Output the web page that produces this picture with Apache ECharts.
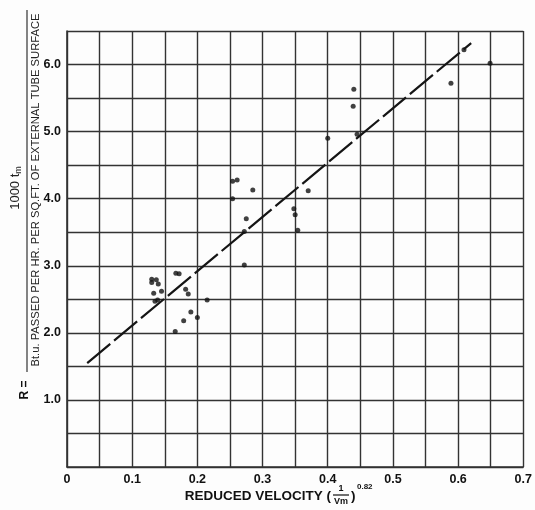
<!DOCTYPE html>
<html>
<head>
<meta charset="utf-8">
<script src="https://cdn.jsdelivr.net/npm/echarts@6/dist/echarts.min.js"></script>
<style>
  html, body { margin: 0; padding: 0; background: #fdfdfd; }
  #chart { width: 535px; height: 510px; }
</style>
</head>
<body>
<div id="chart"></div>
<script>
// test points: [reduced velocity, R]
var pointsX = [0.609, 0.649, 0.589, 0.440, 0.439, 0.400, 0.445, 0.370, 0.348, 0.350, 0.354,
  0.254, 0.261, 0.285, 0.254, 0.275, 0.272, 0.272,
  0.130, 0.130, 0.137, 0.140, 0.133, 0.145, 0.135, 0.139, 0.167, 0.172,
  0.182, 0.186, 0.215, 0.190, 0.179, 0.200, 0.166];
var pointsY = [6.22, 6.02, 5.72, 5.63, 5.38, 4.90, 4.96, 4.12, 3.85, 3.76, 3.53,
  4.26, 4.28, 4.13, 4.00, 3.70, 3.51, 3.01,
  2.80, 2.75, 2.79, 2.73, 2.59, 2.62, 2.47, 2.49, 2.89, 2.88,
  2.65, 2.58, 2.49, 2.31, 2.18, 2.23, 2.02];

// fitted straight line (ends)
var lineX = [0.031, 0.620];
var lineY = [1.55, 6.32];

var xTicks = ['0', '0.1', '0.2', '0.3', '0.4', '0.5', '0.6', '0.7'];
var yTicks = ['', '1.0', '2.0', '3.0', '4.0', '5.0', '6.0'];

var scatterData = [];
for (var i = 0; i < pointsX.length; i++) {
  scatterData.push([pointsX[i], pointsY[i]]);
}
var lineData = [];
for (var j = 0; j < lineX.length; j++) {
  lineData.push([lineX[j], lineY[j]]);
}

var gridColor = '#333';
var font = 'Liberation Sans';

var chart = echarts.init(document.getElementById('chart'));
chart.setOption({
  backgroundColor: '#fdfdfd',
  animation: false,
  grid: { left: 67, right: 2, top: 31, bottom: 43 },
  xAxis: {
    type: 'value', min: 0, max: 0.7, interval: 0.05,
    axisLine: { show: true, lineStyle: { color: gridColor, width: 1.6 } },
    axisTick: { show: false },
    splitLine: { show: true, lineStyle: { color: gridColor, width: 1.4 } },
    axisLabel: {
      color: '#111', fontFamily: font, fontWeight: 'bold', fontSize: 12.5, margin: 6,
      formatter: function (v) {
        var k = Math.round(v * 100);
        if (k % 10 !== 0) return '';
        return xTicks[k / 10];
      }
    }
  },
  yAxis: {
    type: 'value', min: 0, max: 6.5, interval: 0.5,
    axisLine: { show: true, lineStyle: { color: gridColor, width: 1.6 } },
    axisTick: { show: false },
    splitLine: { show: true, lineStyle: { color: gridColor, width: 1.4 } },
    axisLabel: {
      color: '#111', fontFamily: font, fontWeight: 'bold', fontSize: 12.5, margin: 6,
      formatter: function (v) {
        var k = Math.round(v * 10);
        if (k % 10 !== 0) return '';
        return yTicks[k / 10] || '';
      }
    }
  },
  series: [
    {
      type: 'line', data: lineData, symbol: 'none', silent: true,
      lineStyle: { color: '#151515', width: 2.2, type: [30, 5] }
    },
    {
      type: 'scatter', data: scatterData, symbol: 'circle', symbolSize: 5,
      itemStyle: { color: '#111' }
    }
  ],
  graphic: [
    // y axis title as a fraction, rotated
    {
      type: 'text', x: 15, y: 188, rotation: Math.PI / 2,
      style: {
        text: '{a|1000 t}{s|m}', fill: '#222', align: 'center', verticalAlign: 'middle',
        rich: {
          a: { fontFamily: font, fontSize: 13, fill: '#222' },
          s: { fontFamily: font, fontSize: 9, fill: '#222', padding: [7, 0, 0, 0] }
        }
      }
    },
    {
      type: 'line', shape: { x1: 27, y1: 10, x2: 27, y2: 372 },
      style: { stroke: '#333', lineWidth: 1.2 }
    },
    {
      type: 'text', x: 36, y: 190, rotation: Math.PI / 2,
      style: {
        text: 'Bt.u. PASSED PER HR. PER SQ.FT. OF EXTERNAL TUBE SURFACE',
        fontFamily: font, fontSize: 11.2, fill: '#222',
        align: 'center', verticalAlign: 'middle'
      }
    },
    {
      type: 'text', x: 25, y: 390, rotation: Math.PI / 2,
      style: {
        text: 'R =', fontFamily: font, fontWeight: 'bold', fontSize: 12, fill: '#111',
        align: 'center', verticalAlign: 'middle'
      }
    },
    // x axis title
    {
      type: 'text', x: 331, y: 496,
      style: {
        text: 'REDUCED VELOCITY (', fontFamily: font, fontWeight: 'bold', fontSize: 13.5,
        fill: '#111', align: 'right', verticalAlign: 'middle'
      }
    },
    {
      type: 'text', x: 341, y: 489,
      style: { text: '1', fontFamily: font, fontWeight: 'bold', fontSize: 9, fill: '#111',
        align: 'center', verticalAlign: 'middle' }
    },
    {
      type: 'line', shape: { x1: 333, y1: 495, x2: 349, y2: 495 },
      style: { stroke: '#111', lineWidth: 1.2 }
    },
    {
      type: 'text', x: 341, y: 502,
      style: { text: 'Vm', fontFamily: font, fontWeight: 'bold', fontSize: 9, fill: '#111',
        align: 'center', verticalAlign: 'middle' }
    },
    {
      type: 'text', x: 351, y: 496,
      style: { text: ')', fontFamily: font, fontWeight: 'bold', fontSize: 13.5, fill: '#111',
        align: 'left', verticalAlign: 'middle' }
    },
    {
      type: 'text', x: 357, y: 487,
      style: { text: '0.82', fontFamily: font, fontWeight: 'bold', fontSize: 8, fill: '#111',
        align: 'left', verticalAlign: 'middle' }
    }
  ]
});
</script>
</body>
</html>
